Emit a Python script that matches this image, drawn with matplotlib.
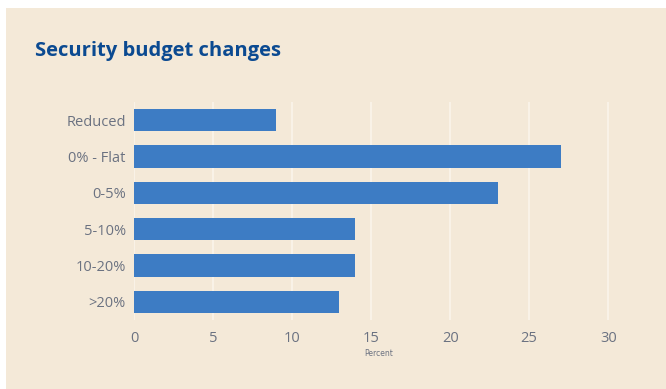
import matplotlib.pyplot as plt
from matplotlib.patches import Rectangle

# budget change categories, top to bottom
categories = ["Reduced", "0% - Flat", "0-5%", "5-10%", "10-20%", ">20%"]
percent = [9, 27, 23, 14, 14, 13]
xticks = [0, 5, 10, 15, 20, 25, 30]

beige = "#f4e9d8"
bar_color = "#3d7cc4"
label_color = "#6b7281"

W, H = 666, 389
fig = plt.figure(figsize=(W / 100, H / 100), dpi=100, facecolor="white")

# beige panel behind everything, white strip at top and left
fig.patches.append(Rectangle((6 / W, 0), 1 - 6 / W, 1 - 8 / H,
                             transform=fig.transFigure, facecolor=beige,
                             edgecolor="none", zorder=-10))

fig.text(35 / W, 1 - 56 / H, "Security budget changes", fontsize=14.5,
         fontweight="bold", color="#0b4a91", family="Open Sans")

ax = fig.add_axes([134 / W, 1 - 320 / H, 490 / W, 218 / H])
ax.set_facecolor("none")

y = list(range(len(categories)))
ax.barh(y, percent, height=0.62, color=bar_color, zorder=3)

ax.set_xlim(0, 31)
ax.set_ylim(len(categories) - 0.5, -0.5)
ax.set_xticks(xticks)
ax.set_yticks(y)
ax.set_yticklabels(categories)
ax.grid(axis="x", color="#f9f2e7", linewidth=1.5, zorder=0)
for s in ax.spines.values():
    s.set_visible(False)
ax.tick_params(length=0, labelsize=10.5, labelcolor=label_color)
ax.tick_params(axis="x", pad=8)
ax.tick_params(axis="y", pad=6)
for lab in ax.get_xticklabels() + ax.get_yticklabels():
    lab.set_family("Open Sans")

ax.set_xlabel("Percent", fontsize=5.5, color=label_color, labelpad=2)

fig.savefig("out.png", dpi=100, facecolor="white")
